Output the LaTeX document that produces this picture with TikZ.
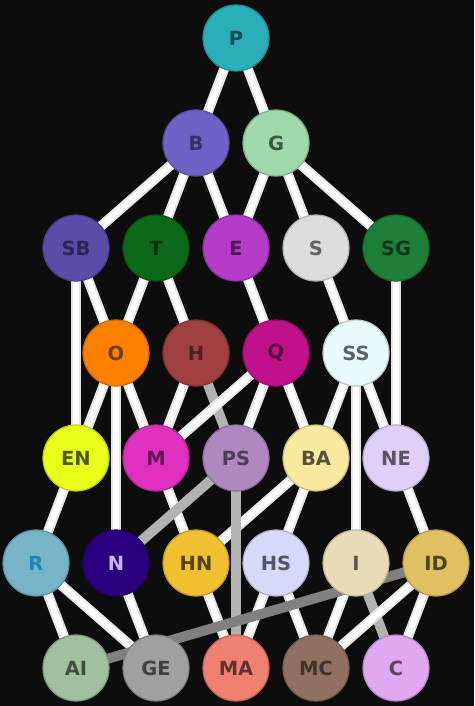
\documentclass[tikz,border=0pt]{standalone}
\usepackage{fontspec}
\setmainfont{DejaVu Sans}
\begin{document}
\begin{tikzpicture}[x=1pt,y=-1pt,
  ball/.style={circle,minimum size=66pt,inner sep=0pt,line width=1.2pt,font=\fontsize{19.5}{22}\selectfont\bfseries},
  wedgeo/.style={line width=10pt,draw=black!10!white},
  wedgei/.style={line width=6pt,draw=white},
  gedge/.style={line width=10pt,draw=black!30!white},
  dedge/.style={line width=10pt,draw=black!50!white}]
\fill[black!95!white] (0,0) rectangle (474,706);
\useasboundingbox (0,0) rectangle (474,706);
\definecolor{cP}{HTML}{2AAFB8}\definecolor{cB}{HTML}{6E62C6}\definecolor{cG}{HTML}{9ED9AC}
\definecolor{cSB}{HTML}{5A4CA8}\definecolor{cT}{HTML}{0A6A1A}\definecolor{cE}{HTML}{B43CC8}
\definecolor{cS}{HTML}{DCDCDC}\definecolor{cSG}{HTML}{1F7F3A}\definecolor{cO}{HTML}{FF8000}
\definecolor{cH}{HTML}{A04040}\definecolor{cQ}{HTML}{C0108A}\definecolor{cSS}{HTML}{E8FAFA}
\definecolor{cEN}{HTML}{E8FF1A}\definecolor{cM}{HTML}{E030C0}\definecolor{cPS}{HTML}{B088C0}
\definecolor{cBA}{HTML}{F8E8A0}\definecolor{cNE}{HTML}{E0D0F8}\definecolor{cR}{HTML}{78B4C8}
\definecolor{cN}{HTML}{2A0080}\definecolor{cHN}{HTML}{F0C030}\definecolor{cHS}{HTML}{D8D8F8}
\definecolor{cI}{HTML}{E8DCB8}\definecolor{cID}{HTML}{E0C060}\definecolor{cAI}{HTML}{A0C0A0}
\definecolor{cGE}{HTML}{A0A0A0}\definecolor{cMA}{HTML}{F08070}\definecolor{cMC}{HTML}{907060}
\definecolor{cC}{HTML}{E0A8F0}\definecolor{tR}{HTML}{1888B8}\definecolor{tN}{HTML}{C8B4F0}
\foreach \n/\x/\y in {P/236/38,B/196/143,G/276/143,SB/76/248,T/156/248,E/236/248,S/316/248,SG/396/248,
  O/116/353,H/196/353,Q/276/353,SS/356/353,EN/76/458,M/156/458,PS/236/458,BA/316/458,NE/396/458,
  R/36/563,N/116/563,HN/196/563,HS/276/563,I/356/563,ID/436/563,AI/76/668,GE/156/668,MA/236/668,MC/316/668,C/396/668}
  \coordinate (\n) at (\x,\y);
% gray edges behind
\draw[gedge] (H) -- (PS);
\draw[gedge] (I) -- (C);
% white edges
\foreach \a/\b in {P/B,P/G,B/SB,B/T,B/E,G/E,G/S,G/SG,SB/EN,SB/O,T/O,T/H,E/Q,S/SS,SG/NE,
  O/EN,O/N,O/M,H/M,Q/M,Q/PS,Q/BA,SS/BA,SS/I,SS/NE,EN/R,M/HN,BA/HN,BA/HS,NE/ID,
  R/AI,R/GE,N/GE,HN/MA,HS/MA,HS/MC,I/MC,ID/MC,ID/C}
  {\draw[wedgeo] (\a) -- (\b); \draw[wedgei] (\a) -- (\b);}
% gray edges in front
\draw[gedge] (PS) -- (N);
\draw[gedge] (PS) -- (MA);
\draw[dedge] (ID) -- (AI);
% nodes
\foreach \n/\t/\tc in {P/P/cP!45!black,B/B/cB!50!black,G/G/cG!40!black,SB/SB/cSB!50!black,T/T/cT!50!black,
  E/E/cE!45!black,S/S/cS!45!black,SG/SG/cSG!45!black,O/O/cO!45!black,H/H/cH!50!black,Q/Q/cQ!45!black,
  SS/SS/cSS!40!black,EN/EN/cEN!35!black,M/M/cM!45!black,PS/PS/cPS!45!black,BA/BA/cBA!35!black,
  NE/NE/cNE!40!black,R/R/tR,N/N/tN,HN/HN/cHN!35!black,HS/HS/cHS!40!black,
  I/I/cI!40!black,ID/ID/cID!35!black,AI/AI/cAI!40!black,GE/GE/cGE!40!black,MA/MA/cMA!40!black,
  MC/MC/cMC!45!black,C/C/cC!40!black}
  \node[ball,fill=c\n,draw=c\n!80!black,text=\tc] (n\n) at (\n) {\t};
\end{tikzpicture}
\end{document}
